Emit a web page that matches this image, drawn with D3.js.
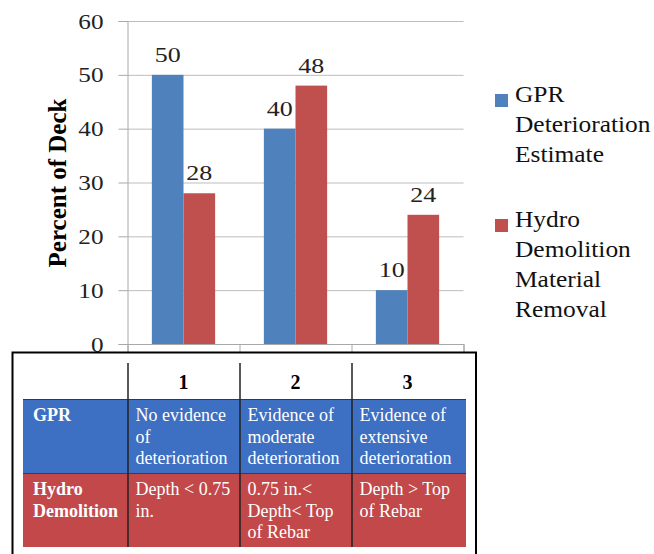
<!DOCTYPE html>
<html>
<head>
<meta charset="utf-8">
<script src="https://cdn.jsdelivr.net/npm/d3@7"></script>
<style>
  body { margin: 0; background: #fff; }
  svg { display: block; }
  svg text { font-family: "Liberation Serif", "Times New Roman", serif; }
</style>
</head>
<body>
<div id="chart"></div>
<script>
// values
var categories = ["1", "2", "3"];
var gprValues = [50, 40, 10];
var hydroValues = [28, 48, 24];
var yTicks = [0, 10, 20, 30, 40, 50, 60];
var seriesNames = [["GPR", "Deterioration", "Estimate"], ["Hydro", "Demolition", "Material", "Removal"]];
var rowLabels = [["GPR"], ["Hydro", "Demolition"]];
var gprDesc = [["No evidence", "of", "deterioration"], ["Evidence of", "moderate", "deterioration"], ["Evidence of", "extensive", "deterioration"]];
var hydroDesc = [["Depth < 0.75", "in."], ["0.75 in.<", "Depth< Top", "of Rebar"], ["Depth > Top", "of Rebar"]];

var colors = ["#4f81bd", "#c0504d"];
var tableColors = ["#3d6fc2", "#c2484a"];
var serif = "Liberation Serif";

var W = 654, H = 554;
var svg = d3.select("#chart").append("svg")
  .attr("width", W)
  .attr("height", H);

var x = d3.scaleBand()
  .domain(categories)
  .range([127.5, 463.5]);

var xSeries = d3.scaleBand()
  .domain([0, 1])
  .range([0, x.bandwidth()])
  .paddingOuter(0.77);

var y = d3.scaleLinear()
  .domain([0, 60])
  .range([344, 21]);

// chart text in the picture is drawn a little wide
function wide(sel, len) {
  sel.attr("font-family", serif)
    .attr("textLength", len)
    .attr("lengthAdjust", "spacingAndGlyphs");
}

// gridlines
svg.append("g")
  .attr("transform", "translate(127.5,0)")
  .call(d3.axisLeft(y).tickValues(yTicks).tickSize(-336).tickFormat(""))
  .call(function(g) {
    g.select(".domain").remove();
    g.selectAll("line").attr("stroke", "#bdbdbd");
  });

// y axis
svg.append("g")
  .attr("transform", "translate(127.5,0)")
  .attr("font-family", serif)
  .call(d3.axisLeft(y).tickValues(yTicks).tickSize(9).tickPadding(15))
  .call(function(g) {
    g.select(".domain").attr("stroke", "#a8a8a8");
    g.selectAll("line").attr("stroke", "#a8a8a8");
    g.selectAll("text")
      .attr("x", -24)
      .attr("fill", "#222")
      .attr("font-size", 22)
      .each(function() {
        var t = d3.select(this);
        wide(t, t.text().length * 12.6);
      });
  });

// x axis with ticks at category edges
var xEdge = d3.scaleLinear().domain([0, 3]).range([127.5, 463.5]);
svg.append("g")
  .attr("transform", "translate(0,344)")
  .call(d3.axisBottom(xEdge).tickValues([0, 1, 2, 3]).tickSize(9).tickFormat(""))
  .call(function(g) {
    g.select(".domain").attr("stroke", "#a8a8a8");
    g.selectAll("line").attr("stroke", "#a8a8a8");
  });

// bars
var series = [gprValues, hydroValues];
series.forEach(function(vals, s) {
  var grp = svg.append("g");
  grp.selectAll("rect")
    .data(vals)
    .enter()
    .append("rect")
    .attr("x", function(d, i) { return x(categories[i]) + xSeries(s); })
    .attr("y", function(d) { return y(d); })
    .attr("width", xSeries.bandwidth())
    .attr("height", function(d) { return y(0) - y(d); })
    .attr("fill", colors[s]);

  grp.selectAll("text")
    .data(vals)
    .enter()
    .append("text")
    .attr("x", function(d, i) { return x(categories[i]) + xSeries(s) + xSeries.bandwidth() / 2; })
    .attr("y", function(d) { return y(d) - 13; })
    .attr("text-anchor", "middle")
    .attr("fill", "#222")
    .attr("font-size", 22)
    .text(function(d) { return d; })
    .call(wide, 26);
});

// y title
svg.append("text")
  .attr("transform", "translate(66,183) rotate(-90)")
  .attr("text-anchor", "middle")
  .attr("font-family", serif)
  .attr("font-size", 25)
  .attr("font-weight", "bold")
  .attr("fill", "#000")
  .text("Percent of Deck");

// legend
var legendTop = [102, 227];
seriesNames.forEach(function(lines, s) {
  var lg = svg.append("g");
  lg.append("rect")
    .attr("x", 495)
    .attr("y", legendTop[s] - 8)
    .attr("width", 13)
    .attr("height", 13)
    .attr("fill", colors[s]);
  lg.selectAll("text")
    .data(lines)
    .enter()
    .append("text")
    .attr("x", 515)
    .attr("y", function(d, i) { return legendTop[s] + i * 30; })
    .attr("fill", "#111")
    .attr("font-size", 22.5)
    .text(function(d) { return d; })
    .each(function() {
      var t = d3.select(this);
      t.attr("font-family", serif);
      var w = this.getComputedTextLength();
      wide(t, w * 1.13);
    });
});

// table under the chart
var tbl = svg.append("g").attr("font-family", serif);
var tLeft = 23, tRight = 466;
var rowY = [363, 399, 473, 547];

tbl.append("rect")
  .attr("x", 12.5).attr("y", 352.5)
  .attr("width", 463.5).attr("height", 230)
  .attr("fill", "#fff")
  .attr("stroke", "#000")
  .attr("stroke-width", 2);

[0, 1].forEach(function(r) {
  tbl.append("rect")
    .attr("x", tLeft).attr("y", rowY[r + 1])
    .attr("width", tRight - tLeft)
    .attr("height", rowY[r + 2] - rowY[r + 1])
    .attr("fill", tableColors[r]);
});

tbl.append("line")
  .attr("x1", tLeft).attr("x2", tRight)
  .attr("y1", rowY[1] + 0.5).attr("y2", rowY[1] + 0.5)
  .attr("stroke", "#1f3c70").attr("stroke-width", 1);
tbl.append("line")
  .attr("x1", tLeft).attr("x2", tRight)
  .attr("y1", rowY[2] + 0.5).attr("y2", rowY[2] + 0.5)
  .attr("stroke", "#5a2e40").attr("stroke-width", 1);

// column dividers line up with the chart categories
tbl.selectAll(".divider")
  .data(categories)
  .enter()
  .append("line")
  .attr("class", "divider")
  .attr("x1", function(d) { return x(d) + 0.5; })
  .attr("x2", function(d) { return x(d) + 0.5; })
  .attr("y1", rowY[0])
  .attr("y2", rowY[3])
  .attr("stroke", "#222")
  .attr("stroke-width", 1.5);

tbl.selectAll(".head")
  .data(categories)
  .enter()
  .append("text")
  .attr("class", "head")
  .attr("x", function(d) { return x(d) + x.bandwidth() / 2; })
  .attr("y", 389)
  .attr("text-anchor", "middle")
  .attr("font-size", 20)
  .attr("font-weight", "bold")
  .attr("fill", "#000")
  .text(function(d) { return d; });

var rowBase = [421, 495];
rowLabels.forEach(function(lines, r) {
  tbl.selectAll(".rl" + r)
    .data(lines)
    .enter()
    .append("text")
    .attr("x", 33)
    .attr("y", function(d, i) { return rowBase[r] + i * 22; })
    .attr("font-size", 18)
    .attr("font-weight", "bold")
    .attr("fill", "#fff")
    .text(function(d) { return d; });
});

[gprDesc, hydroDesc].forEach(function(desc, r) {
  desc.forEach(function(lines, c) {
    tbl.selectAll(".c" + r + "_" + c)
      .data(lines)
      .enter()
      .append("text")
      .attr("x", x(categories[c]) + 8)
      .attr("y", function(d, i) { return rowBase[r] + i * 21.7; })
      .attr("font-size", 18)
      .attr("fill", "#fff")
      .text(function(d) { return d; });
  });
});
</script>
</body>
</html>
